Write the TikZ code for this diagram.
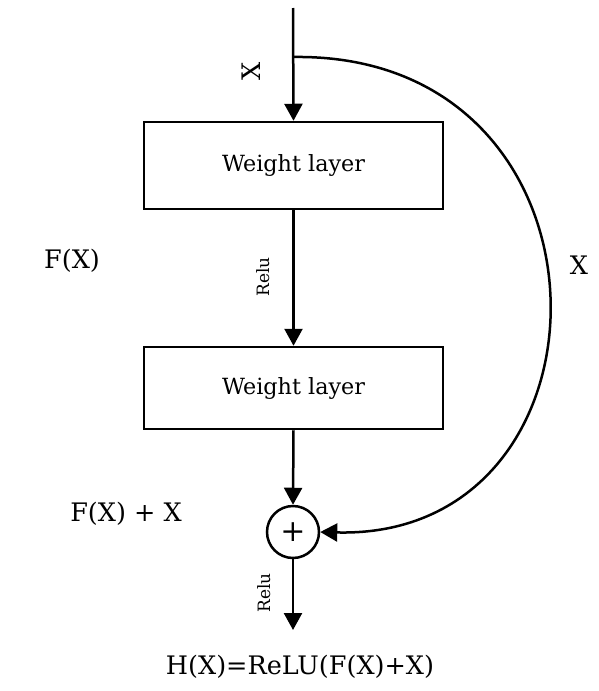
\documentclass[tikz,border=0pt]{standalone}
\usepackage{fontspec}
\setmainfont{DejaVu Serif}
\usetikzlibrary{arrows.meta}
\begin{document}
\begin{tikzpicture}[x=1pt,y=-1pt,
  wbox/.style={draw,line width=2.5pt,minimum width=299pt,minimum height=#1,inner sep=0pt,font=\fontsize{22.3}{26}\selectfont},
  flow/.style={line width=2.5pt,-{Triangle[length=17pt,width=18pt]}},
  lbl/.style={font=\fontsize{25.5}{28}\selectfont,inner sep=0pt},
  small/.style={font=\fontsize{17}{19}\selectfont,inner sep=0pt,rotate=90}]
\useasboundingbox (0,0) rectangle (598,691);
\coordinate (top) at (293,8);
\node[wbox=87pt] (b1) at (293.5,165.5) {Weight layer};
\node[wbox=82pt] (b2) at (293.5,388) {Weight layer};
\node[draw,circle,line width=2.5pt,minimum size=52pt,inner sep=0pt,font=\fontsize{30}{32}\selectfont] (plus) at (293,532) {+};
\coordinate (out) at (293,630);
\coordinate (split) at (293,57);
\draw[flow] (top) -- (b1.north);
\draw[flow] (b1.south) -- (b2.north);
\draw[flow] (b2.south) -- (plus.north);
\draw[flow] (plus.south) -- (out);
\draw[flow] (split) .. controls (630,52) and (628,540) .. (plus.east);
\node[lbl,rotate=90] (xt) at (251,71) {X};
\node[lbl] (xr) at (579,265) {X};
\node[lbl] (fx) at (72,261) {F(X)};
\node[lbl] (fxx) at (126,514) {F(X) + X};
\node[lbl] (hx) at (300,667) {H(X)=ReLU(F(X)+X)};
\node[small] (r1) at (263,277) {Relu};
\node[small] (r2) at (264,593) {Relu};
\end{tikzpicture}
\end{document}
